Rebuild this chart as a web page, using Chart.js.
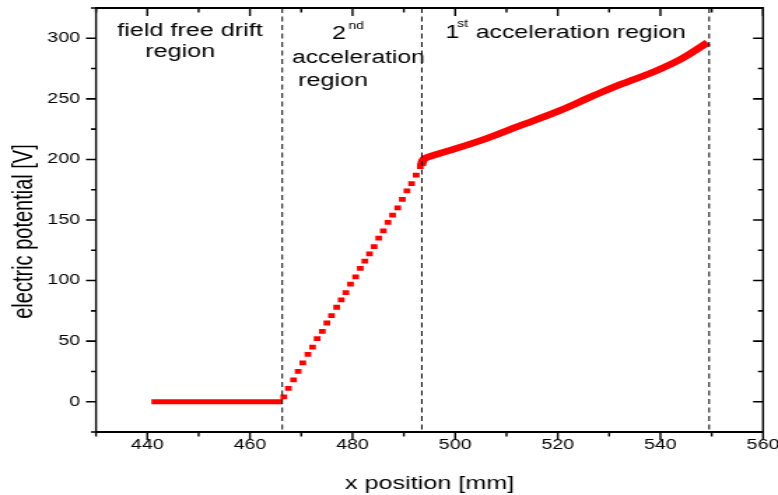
<!DOCTYPE html>
<html><head><meta charset="utf-8">
<script src="https://cdn.jsdelivr.net/npm/chart.js@4.4.1/dist/chart.umd.min.js"></script>
<style>
html,body{margin:0;padding:0;background:#fff;overflow:hidden;width:778px;height:495px;}
#wrap{position:absolute;left:0;top:0;width:556px;height:495px;transform:scaleX(1.399281);transform-origin:0 0;}
</style></head><body>
<div id="wrap"><canvas id="c"></canvas></div>
<script>
// ---- data ----
const driftX = [440.8, 466.3];
const driftV = [0, 0];
const rampX = [466.6, 467.5, 468.5, 469.4, 470.3, 471.3, 472.2, 473.1, 474.1, 475.0, 475.9, 476.9, 477.8, 478.7, 479.6, 480.6, 481.5, 482.4, 483.3, 484.2, 485.1, 486.0, 486.9, 487.8, 488.8, 489.7, 490.6, 491.5, 492.4, 493.2];
const rampV = [4, 11, 18, 25, 32, 39, 45, 52, 58, 65, 71, 78, 84, 90, 97, 103, 110, 116, 122, 128, 135, 141, 148, 154, 160, 167, 174, 180, 187, 194];
const firstX = [493.4, 493.7, 494.2, 495.5, 499.4, 505.9, 512.4, 520.5, 526.1, 528.3, 532.6, 539.1, 544.3, 549.2];
const firstV = [195, 199, 201, 203, 208, 217, 227.5, 240.5, 251, 255, 262.5, 273, 283.5, 296.5];
const boundaryX = [466.3, 493.5, 549.5];
const xTickLabels = [440, 460, 480, 500, 520, 540, 560];
const xMinorTicks = [430, 450, 470, 490, 510, 530, 550];
const yTickLabels = [0, 50, 100, 150, 200, 250, 300];
const yMinorTicks = [-25, 25, 75, 125, 175, 225, 275, 325];
const xTitle = 'x position [mm]';
const yTitle = 'electric potential [V]';
const notes = [
  {text: 'field free drift', x: 434.1, y: 302, size: 18},
  {text: 'region', x: 439.6, y: 284.2, size: 18},
  {text: '2', x: 476.0, y: 299.3, size: 18},
  {text: 'nd', x: 479.2, y: 307.5, size: 10},
  {text: 'acceleration', x: 468.2, y: 279.4, size: 17.6},
  {text: 'region', x: 469.4, y: 260.6, size: 18},
  {text: '1', x: 498.1, y: 300, size: 18},
  {text: 'st', x: 500.4, y: 309.7, size: 10},
  {text: 'acceleration region', x: 504.0, y: 300, size: 17.8}
];

const FONT = '"Liberation Sans", Arial, Helvetica, sans-serif';
const pts = (xs, ys) => xs.map((v, i) => ({x: v, y: ys[i]}));

const framePlugin = {
  id: 'frame',
  afterDatasetsDraw(chart) {
    const {ctx, chartArea: {top, bottom}, scales: {x}} = chart;
    ctx.save();
    ctx.strokeStyle = '#000';
    ctx.lineWidth = 1;
    ctx.setLineDash([5, 3.5]);
    boundaryX.forEach(v => {
      const px = x.getPixelForValue(v);
      ctx.beginPath(); ctx.moveTo(px, top); ctx.lineTo(px, bottom); ctx.stroke();
    });
    ctx.restore();
  },
  afterDraw(chart) {
    const {ctx, chartArea: {left, right, top, bottom}, scales: {x, y}} = chart;
    ctx.save();
    ctx.strokeStyle = '#000';
    // frame
    ctx.lineWidth = 2;
    ctx.beginPath();
    ctx.moveTo(left - 0.7, top); ctx.lineTo(right + 0.7, top);
    ctx.moveTo(left - 0.7, bottom); ctx.lineTo(right + 0.7, bottom);
    ctx.stroke();
    ctx.lineWidth = 1.4;
    ctx.beginPath();
    ctx.moveTo(left, top); ctx.lineTo(left, bottom);
    ctx.moveTo(right, top); ctx.lineTo(right, bottom);
    ctx.stroke();
    // x ticks (bottom outward, top inward)
    ctx.lineWidth = 1.4;
    ctx.beginPath();
    const xt = (vals, len) => vals.forEach(v => {
      const px = x.getPixelForValue(v);
      ctx.moveTo(px, bottom); ctx.lineTo(px, bottom + len);
      ctx.moveTo(px, top); ctx.lineTo(px, top + len);
    });
    xt(xTickLabels, 8); xt(xMinorTicks, 4.5);
    ctx.stroke();
    // y ticks (left outward, right inward)
    ctx.lineWidth = 1.6;
    ctx.beginPath();
    const yt = (vals, len) => vals.forEach(v => {
      const py = y.getPixelForValue(v);
      ctx.moveTo(left, py); ctx.lineTo(left - len, py);
      ctx.moveTo(right, py); ctx.lineTo(right - len, py);
    });
    yt(yTickLabels, 7.1); yt(yMinorTicks, 3.6);
    ctx.stroke();
    // y axis title
    ctx.fillStyle = '#000';
    ctx.save();
    ctx.translate(17.2, y.getPixelForValue(140.5));
    ctx.rotate(-Math.PI / 2);
    ctx.textAlign = 'center';
    ctx.textBaseline = 'middle';
    ctx.font = '20px ' + FONT;
    ctx.fillText(yTitle, 0, 0);
    ctx.restore();
    // annotations
    ctx.textAlign = 'left';
    ctx.textBaseline = 'alphabetic';
    notes.forEach(n => {
      ctx.font = n.size + 'px ' + FONT;
      ctx.fillText(n.text, x.getPixelForValue(n.x), y.getPixelForValue(n.y));
    });
    ctx.restore();
  }
};

new Chart(document.getElementById('c'), {
  type: 'scatter',
  data: {
    datasets: [
      {data: pts(driftX, driftV), showLine: true, borderColor: '#ff0000', borderWidth: 5, pointRadius: 0, borderCapStyle: 'butt'},
      {data: pts(rampX, rampV), showLine: false, backgroundColor: '#ff0000', borderColor: '#ff0000', borderWidth: 0, pointStyle: 'rect', pointRadius: 3.4},
      {data: pts(firstX, firstV), showLine: true, borderColor: '#ff0000', borderWidth: 6.5, pointRadius: 0, cubicInterpolationMode: 'monotone', borderCapStyle: 'butt'}
    ]
  },
  options: {
    responsive: true,
    maintainAspectRatio: false,
    animation: false,
    devicePixelRatio: 1,
    layout: {padding: {top: 8, right: 10.7, left: 0, bottom: 0}},
    plugins: {legend: {display: false}, tooltip: {enabled: false}},
    scales: {
      x: {
        type: 'linear', min: 430, max: 560,
        afterBuildTicks: s => { s.ticks = xTickLabels.map(v => ({value: v})); },
        afterFit: s => { s.height = 63; s.paddingLeft = 0; s.paddingRight = 0; },
        grid: {display: false, drawTicks: false},
        border: {display: false},
        ticks: {color: '#000', font: {family: FONT, size: 14}, padding: 4.5, maxRotation: 0, autoSkip: false},
        title: {display: true, text: xTitle, color: '#000', font: {family: FONT, size: 18}, padding: {top: 0, bottom: 0}}
      },
      y: {
        type: 'linear', min: -25, max: 325,
        afterBuildTicks: s => { s.ticks = yTickLabels.map(v => ({value: v})); },
        afterFit: s => { s.width = 68.6; s.paddingTop = 0; s.paddingBottom = 0; },
        grid: {display: false, drawTicks: false},
        border: {display: false},
        ticks: {color: '#000', font: {family: FONT, size: 14}, padding: 11.4, autoSkip: false},
        title: {display: false, text: yTitle}
      }
    }
  },
  plugins: [framePlugin]
});
</script>
</body></html>
